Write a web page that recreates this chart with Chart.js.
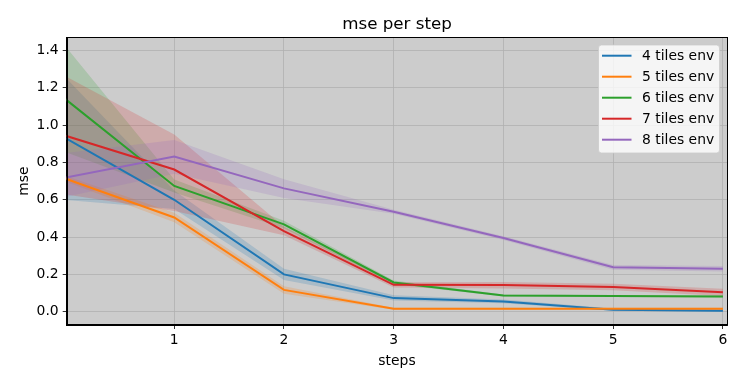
<!DOCTYPE html>
<html>
<head>
<meta charset="utf-8">
<script src="https://cdn.jsdelivr.net/npm/chart.js@4"></script>
<style>
html,body{margin:0;padding:0;background:#fff;}
canvas{display:block;}
</style>
</head>
<body>
<canvas id="c" width="742" height="383"></canvas>
<script>
// ---- data ----
const steps = [0, 1, 2, 3, 4, 5, 6];
const seriesNames = ["4 tiles env", "5 tiles env", "6 tiles env", "7 tiles env", "8 tiles env"];
const colors = ["#1f77b4", "#ff7f0e", "#2ca02c", "#d62728", "#9467bd"];

const mse4 = [0.933, 0.600, 0.200, 0.073, 0.055, 0.011, 0.005];
const lo4  = [0.600, 0.550, 0.170, 0.060, 0.045, 0.005, 0.000];
const hi4  = [1.260, 0.650, 0.230, 0.088, 0.065, 0.017, 0.010];

const mse5 = [0.715, 0.505, 0.117, 0.016, 0.016, 0.016, 0.016];
const lo5  = [0.700, 0.480, 0.097, 0.011, 0.011, 0.011, 0.011];
const hi5  = [0.730, 0.530, 0.137, 0.021, 0.021, 0.021, 0.021];

const mse6 = [1.143, 0.674, 0.468, 0.157, 0.087, 0.084, 0.082];
const lo6  = [0.858, 0.639, 0.448, 0.147, 0.082, 0.079, 0.077];
const hi6  = [1.428, 0.709, 0.488, 0.167, 0.092, 0.089, 0.087];

const mse7 = [0.945, 0.762, 0.432, 0.144, 0.143, 0.132, 0.104];
const lo7  = [0.630, 0.540, 0.410, 0.130, 0.125, 0.115, 0.085];
const hi7  = [1.265, 0.950, 0.455, 0.158, 0.160, 0.150, 0.123];

const mse8 = [0.718, 0.831, 0.661, 0.536, 0.395, 0.239, 0.230];
const lo8  = [0.615, 0.740, 0.610, 0.525, 0.385, 0.225, 0.215];
const hi8  = [0.850, 0.920, 0.710, 0.547, 0.405, 0.250, 0.245];

const xTicks = [1, 2, 3, 4, 5, 6];
const yTicks = [0.0, 0.2, 0.4, 0.6, 0.8, 1.0, 1.2, 1.4];
const titleText = "mse per step";
const xLabel = "steps";
const yLabel = "mse";

// ---- build ----
const means = [mse4, mse5, mse6, mse7, mse8];
const lows = [lo4, lo5, lo6, lo7, lo8];
const highs = [hi4, hi5, hi6, hi7, hi8];
const pts = arr => steps.map((x, i) => ({x: x, y: arr[i]}));
function rgba(hex, a) {
  const n = parseInt(hex.slice(1), 16);
  return `rgba(${(n>>16)&255},${(n>>8)&255},${n&255},${a})`;
}
const datasets = [];
// lines first
means.forEach((m, i) => {
  datasets.push({
    label: seriesNames[i], data: pts(m), borderColor: colors[i], borderWidth: 2,
    pointRadius: 0, fill: false, tension: 0, order: -i
  });
});
// bands
means.forEach((m, i) => {
  const upIdx = datasets.length;
  datasets.push({
    label: seriesNames[i] + " hi", data: pts(highs[i]), borderWidth: 0, borderColor: 'rgba(0,0,0,0)',
    pointRadius: 0, fill: false, tension: 0, order: 10 - i
  });
  datasets.push({
    label: seriesNames[i] + " lo", data: pts(lows[i]), borderWidth: 0, borderColor: 'rgba(0,0,0,0)',
    backgroundColor: rgba(colors[i], 0.2),
    pointRadius: 0, fill: upIdx, tension: 0, order: 10 - i
  });
});

const FONT = "'DejaVu Sans', sans-serif";

const decor = {
  id: 'decor',
  beforeDraw(chart) {
    const {ctx, chartArea: a} = chart;
    ctx.save();
    ctx.fillStyle = '#cccccc';
    ctx.fillRect(a.left, a.top, a.right - a.left, a.bottom - a.top);
    ctx.restore();
  },
  afterDraw(chart) {
    const {ctx, chartArea: a} = chart;
    ctx.save();
    // spines
    ctx.strokeStyle = '#000';
    ctx.lineWidth = 1;
    ctx.strokeRect(Math.round(a.left) + 0.5, Math.round(a.top) + 0.5,
      Math.round(a.right - a.left) - 1, Math.round(a.bottom - a.top) - 1);
    // title
    ctx.fillStyle = '#000';
    ctx.font = `16.7px ${FONT}`;
    ctx.textAlign = 'center';
    ctx.textBaseline = 'alphabetic';
    ctx.fillText(titleText, (a.left + a.right) / 2, 29);
    // x label
    ctx.font = `13.9px ${FONT}`;
    ctx.fillText(xLabel, (a.left + a.right) / 2, 365);
    // y label
    ctx.save();
    ctx.translate(28, (a.top + a.bottom) / 2);
    ctx.rotate(-Math.PI / 2);
    ctx.fillText(yLabel, 0, 0);
    ctx.restore();
    // legend
    const bx = 598.5, by = 45, bw = 121, bh = 108, r = 3;
    ctx.beginPath();
    ctx.moveTo(bx + r, by);
    ctx.lineTo(bx + bw - r, by);
    ctx.quadraticCurveTo(bx + bw, by, bx + bw, by + r);
    ctx.lineTo(bx + bw, by + bh - r);
    ctx.quadraticCurveTo(bx + bw, by + bh, bx + bw - r, by + bh);
    ctx.lineTo(bx + r, by + bh);
    ctx.quadraticCurveTo(bx, by + bh, bx, by + bh - r);
    ctx.lineTo(bx, by + r);
    ctx.quadraticCurveTo(bx, by, bx + r, by);
    ctx.closePath();
    ctx.fillStyle = 'rgba(255,255,255,0.8)';
    ctx.fill();
    ctx.strokeStyle = 'rgba(204,204,204,0.8)';
    ctx.lineWidth = 1;
    ctx.stroke();
    ctx.textAlign = 'left';
    ctx.textBaseline = 'middle';
    ctx.font = `13.9px ${FONT}`;
    seriesNames.forEach((n, i) => {
      const y = 55.7 + i * 21;
      ctx.strokeStyle = colors[i];
      ctx.lineWidth = 2;
      ctx.beginPath();
      ctx.moveTo(602, y);
      ctx.lineTo(631.5, y);
      ctx.stroke();
      ctx.fillStyle = '#000';
      ctx.fillText(n, 642, y + 1);
    });
    ctx.restore();
  }
};

new Chart(document.getElementById('c'), {
  type: 'line',
  data: {datasets: datasets},
  plugins: [decor],
  options: {
    responsive: false,
    devicePixelRatio: 1,
    animation: false,
    events: [],
    layout: {padding: {top: 37, right: 14.7, left: 0, bottom: 0}},
    plugins: {legend: {display: false}, title: {display: false}, tooltip: {enabled: false}},
    scales: {
      x: {
        type: 'linear', min: 0.02, max: 6.04,
        afterFit: s => { s.height = 58; },
        afterBuildTicks: s => { s.ticks = xTicks.map(v => ({value: v})); },
        grid: {color: '#b0b0b0', lineWidth: 0.8, tickColor: '#000', tickLength: 4, drawTicks: true},
        border: {display: true, color: '#000', width: 1},
        ticks: {color: '#000', font: {family: FONT, size: 13.9}, padding: 3, maxRotation: 0, autoSkip: false,
          callback: v => String(v)}
      },
      y: {
        type: 'linear', min: -0.071, max: 1.472,
        afterFit: s => { s.width = 66.7; },
        afterBuildTicks: s => { s.ticks = yTicks.map(v => ({value: v})); },
        grid: {color: '#b0b0b0', lineWidth: 0.8, tickColor: '#000', tickLength: 4, drawTicks: true},
        border: {display: true, color: '#000', width: 1},
        ticks: {color: '#000', font: {family: FONT, size: 13.9}, padding: 4, autoSkip: false,
          callback: v => Number(v).toFixed(1)}
      }
    }
  }
});
</script>
</body>
</html>
